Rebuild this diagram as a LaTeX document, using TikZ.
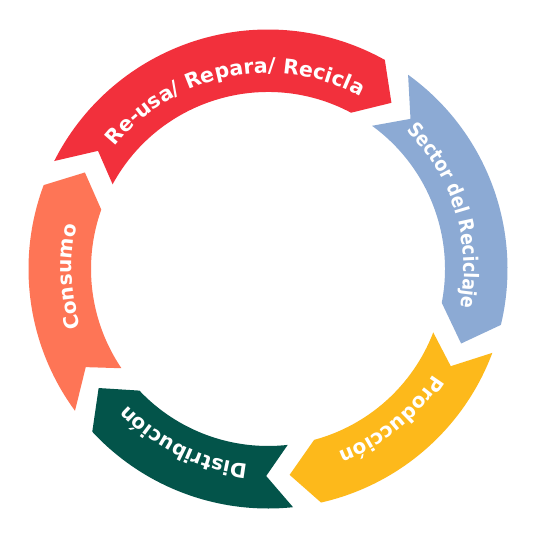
\documentclass[tikz,border=0pt]{standalone}
\usepackage{fontspec}
\usetikzlibrary{decorations.text}
\newfontfamily\lblfont{DejaVu Sans}
\newfontfamily\condfont{DejaVu Sans}[FakeStretch=0.87]
\definecolor{cRed}{HTML}{F2303C}
\definecolor{cBlue}{HTML}{8CAAD4}
\definecolor{cYellow}{HTML}{FDB91B}
\definecolor{cGreen}{HTML}{03544A}
\definecolor{cCoral}{HTML}{FE7556}
\newcommand\ringseg[7]{%
  \fill[#1] (#2:239.5pt) arc[start angle=#2, end angle=#5, radius=239.5pt]
    -- (#7:207pt) -- (#6:177pt)
    arc[start angle=#6, end angle=#3, radius=177pt]
    -- (#4:207pt) -- cycle;}
\newcommand\ringlabel[4]{%
  \path[decorate, decoration={text along path, text align=center,
     text color=white, text={|#4|#1}}]
    (#2:196pt) arc[start angle=#2, end angle=#3, radius=196pt];}
\begin{document}
\begin{tikzpicture}
\fill[white] (-268pt,-271pt) rectangle (268pt,269pt);
\useasboundingbox (-268pt,-271pt) rectangle (268pt,269pt);
% segments: color, aOuter, aInner, notch, bOuter, bInner, point
\ringseg{cRed}{153.2}{151.4}{145.2}{60.8}{62}{53.4}
\ringseg{cBlue}{54.2}{54}{46.5}{-13.5}{-11}{-21.1}
\ringseg{cYellow}{-20.5}{-21}{-28}{-77.2}{-74.9}{-84}
\ringseg{cGreen}{-84}{-83.6}{-90.5}{-137.2}{-136.6}{-144.9}
\ringseg{cCoral}{216.3}{214.1}{208.3}{159.5}{160.4}{152.2}
% labels
\ringlabel{Re-usa/ Repara/ Recicla}{151.6}{51.6}{\lblfont\bfseries\fontsize{20.5}{24}\selectfont\color{white}}
\ringlabel{Sector del Reciclaje}{51.9}{-18.1}{\condfont\bfseries\fontsize{20}{24}\selectfont\color{white}}
\ringlabel{Producción}{-20.7}{-80.7}{\lblfont\bfseries\fontsize{20}{24}\selectfont\color{white}}
\ringlabel{Distribución}{-81}{-151}{\lblfont\bfseries\fontsize{20}{24}\selectfont\color{white}}
\ringlabel{Consumo}{212.3}{152.3}{\lblfont\bfseries\fontsize{20}{24}\selectfont\color{white}}
\end{tikzpicture}
\end{document}
